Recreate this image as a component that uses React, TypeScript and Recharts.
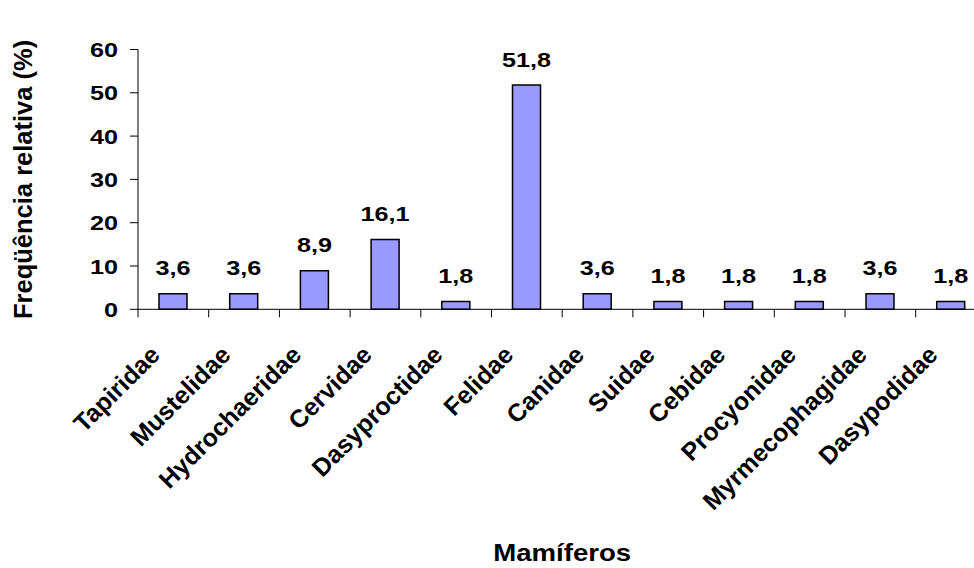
import React from 'react';
import { BarChart, Bar, XAxis, YAxis, LabelList } from 'recharts';

// Mammal families and their relative frequency (%)
const families = [
  'Tapiridae',
  'Mustelidae',
  'Hydrochaeridae',
  'Cervidae',
  'Dasyproctidae',
  'Felidae',
  'Canidae',
  'Suidae',
  'Cebidae',
  'Procyonidae',
  'Myrmecophagidae',
  'Dasypodidae',
];
const frequencies = [3.6, 3.6, 8.9, 16.1, 1.8, 51.8, 3.6, 1.8, 1.8, 1.8, 3.6, 1.8];
const yTicks = [0, 10, 20, 30, 40, 50, 60];

const data = families.map((name, i) => ({ name, value: frequencies[i] }));

// Layout
const CHART_W = 1000;
const CHART_H = 568;
const PLOT_LEFT = 138;
const PLOT_TOP = 49.5;
const PLOT_BOTTOM = 309.3;
const PLOT_RIGHT = 986.4;
const Y_AXIS_W = 60;
const X_AXIS_H = 60;
const BAND = (PLOT_RIGHT - PLOT_LEFT) / families.length;
const FONT = '"Liberation Sans", Arial, Helvetica, sans-serif';
const STRETCH = 1.2;

const fmt = (v: number) => v.toFixed(1).replace('.', ',');

// Category tick: boundary tick mark plus a slanted bold label
const XTick = (props: any) => {
  const { x, y, payload } = props;
  const edge = x - BAND / 2;
  return (
    <g>
      <line x1={edge} y1={y} x2={edge} y2={y + 8} stroke="#000" strokeWidth={1} />
      <text
        transform={`translate(${x - 12},${y + 47}) rotate(-45)`}
        textAnchor="end"
        fontSize={25}
        fontWeight="bold"
        fontFamily={FONT}
        fill="#000"
      >
        {payload.value}
      </text>
    </g>
  );
};

const YTick = (props: any) => {
  const { x, y, payload } = props;
  return (
    <text
      transform={`translate(${x},${y}) scale(${STRETCH},1)`}
      dy="0.36em"
      textAnchor="end"
      fontSize={21}
      fontWeight="bold"
      fontFamily={FONT}
      fill="#000"
    >
      {payload.value}
    </text>
  );
};

const ValueLabel = (props: any) => {
  const { x, y, width, value } = props;
  return (
    <text
      transform={`translate(${Number(x) + Number(width) / 2},${Number(y) - 18.5}) scale(${STRETCH},1)`}
      textAnchor="middle"
      fontSize={21}
      fontWeight="bold"
      fontFamily={FONT}
      fill="#000"
    >
      {fmt(Number(value))}
    </text>
  );
};

const XTitle = (props: any) => {
  const vb = props.viewBox || {};
  return (
    <text
      transform={`translate(${vb.x + vb.width / 2},${vb.y + 252}) scale(${STRETCH},1)`}
      textAnchor="middle"
      fontSize={23}
      fontWeight="bold"
      fontFamily={FONT}
      fill="#000"
    >
      Mamíferos
    </text>
  );
};

const YTitle = (props: any) => {
  const vb = props.viewBox || {};
  return (
    <text
      transform={`translate(32,${vb.y + vb.height / 2}) rotate(-90)`}
      textAnchor="middle"
      fontSize={25.5}
      fontWeight="bold"
      fontFamily={FONT}
      fill="#000"
    >
      Freqüência relativa (%)
    </text>
  );
};

export default function App() {
  return (
    <div
      style={{
        position: 'absolute',
        left: 0,
        top: 0,
        width: 974,
        height: 568,
        overflow: 'hidden',
        background: '#fff',
      }}
    >
      <BarChart
        width={CHART_W}
        height={CHART_H}
        data={data}
        margin={{
          top: PLOT_TOP,
          left: PLOT_LEFT - Y_AXIS_W,
          right: CHART_W - PLOT_RIGHT,
          bottom: CHART_H - PLOT_BOTTOM - X_AXIS_H,
        }}
      >
        <XAxis
          dataKey="name"
          height={X_AXIS_H}
          interval={0}
          axisLine={{ stroke: '#000', strokeWidth: 1 }}
          tickLine={false}
          tickSize={0}
          tickMargin={0}
          tick={<XTick />}
          label={<XTitle />}
        />
        <YAxis
          domain={[0, 60]}
          ticks={yTicks}
          interval={0}
          width={Y_AXIS_W}
          axisLine={{ stroke: '#000', strokeWidth: 1 }}
          tickLine={{ stroke: '#000', strokeWidth: 1 }}
          tickSize={8}
          tickMargin={12}
          tick={<YTick />}
          label={<YTitle />}
        />
        <Bar
          dataKey="value"
          fill="#9999FF"
          stroke="#000"
          strokeWidth={1.5}
          barSize={28}
          isAnimationActive={false}
        >
          <LabelList dataKey="value" content={<ValueLabel />} />
        </Bar>
      </BarChart>
    </div>
  );
}
